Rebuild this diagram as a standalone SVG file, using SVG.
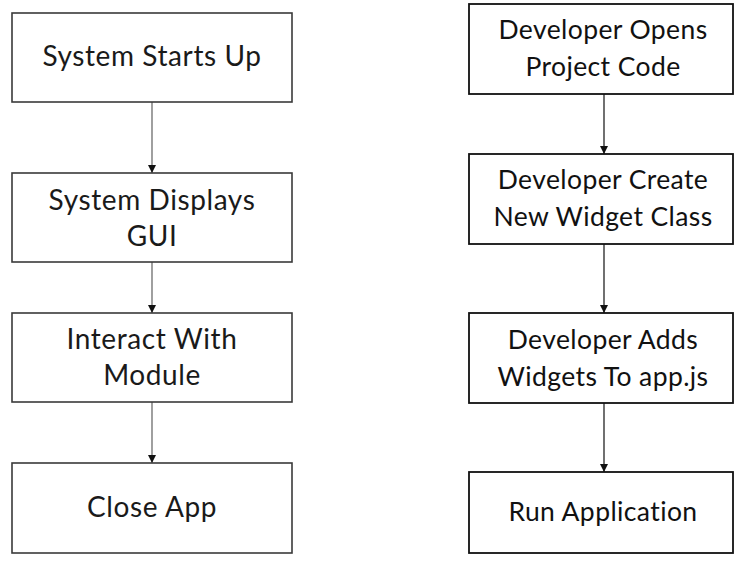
<svg xmlns="http://www.w3.org/2000/svg" width="743" height="568" viewBox="0 0 743 568">
<style>
.box{fill:#fff;stroke:#3a3a3a;stroke-width:1.6}
.boxr{fill:#fff;stroke:#111;stroke-width:1.8}
.t{font-family:Lato,"Open Sans","Liberation Sans",sans-serif;font-size:28px;letter-spacing:0.6px;text-anchor:middle;fill:#1a1a1a}
.tr{font-family:Lato,"Open Sans","Liberation Sans",sans-serif;font-size:26.5px;letter-spacing:0.4px;text-anchor:middle;fill:#111}
.c{stroke:#777;stroke-width:1.4;fill:none}
.cr{stroke:#111;stroke-width:1.2;fill:none}
</style>
<defs>
<marker id="ah" markerUnits="userSpaceOnUse" markerWidth="10" markerHeight="9" refX="8" refY="4" orient="auto">
<path d="M0,0 L8,4 L0,8 Z" fill="#111"/>
</marker>
</defs>
<rect width="743" height="568" fill="#fff"/>
<g id="connectors">
<line class="c" x1="152" y1="102" x2="152" y2="173" marker-end="url(#ah)"/>
<line class="c" x1="152" y1="262" x2="152" y2="313" marker-end="url(#ah)"/>
<line class="c" x1="152" y1="402" x2="152" y2="463" marker-end="url(#ah)"/>
<line class="cr" x1="604" y1="94" x2="604" y2="154" marker-end="url(#ah)"/>
<line class="cr" x1="604" y1="244" x2="604" y2="313" marker-end="url(#ah)"/>
<line class="cr" x1="604" y1="403" x2="604" y2="472" marker-end="url(#ah)"/>
</g>
<g id="n1"><rect class="box" x="12" y="13" width="280" height="89"/><text class="t" x="152" y="66">System Starts Up</text></g>
<g id="n2"><rect class="box" x="12" y="173" width="280" height="89"/><text class="t" x="152" y="210">System Displays</text><text class="t" x="152" y="246">GUI</text></g>
<g id="n3"><rect class="box" x="12" y="313" width="280" height="89"/><text class="t" x="152" y="349">Interact With</text><text class="t" x="152" y="385">Module</text></g>
<g id="n4"><rect class="box" x="12" y="463" width="280" height="90"/><text class="t" x="152" y="517">Close App</text></g>
<g id="r1"><rect class="boxr" x="469" y="4" width="264" height="90"/><text class="tr" x="603" y="39">Developer Opens</text><text class="tr" x="603" y="76">Project Code</text></g>
<g id="r2"><rect class="boxr" x="469" y="154" width="264" height="90"/><text class="tr" x="603" y="189">Developer Create</text><text class="tr" x="603" y="226">New Widget Class</text></g>
<g id="r3"><rect class="boxr" x="469" y="313" width="264" height="90"/><text class="tr" x="603" y="349">Developer Adds</text><text class="tr" x="603" y="386">Widgets To app.js</text></g>
<g id="r4"><rect class="boxr" x="469" y="472" width="264" height="81"/><text class="tr" x="603" y="521">Run Application</text></g>
</svg>
